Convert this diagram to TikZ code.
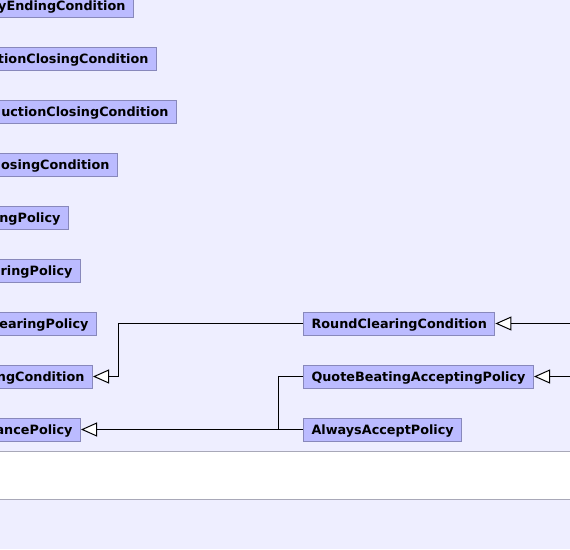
\documentclass[tikz,border=0pt]{standalone}
\usepackage{fontspec}
\setmainfont{DejaVu Sans}
\usepackage{xcolor}
\usepackage{tikz}
\usetikzlibrary{arrows.meta, positioning}
\definecolor{pagebg}{HTML}{EEEEFF}
\definecolor{clsfill}{HTML}{BBBBFF}
\definecolor{clsline}{HTML}{8888BB}
\definecolor{sepline}{HTML}{A8A8B8}

\begin{document}
\begin{tikzpicture}[x=1pt, y=-1pt, font=\bfseries\fontsize{12.8}{14}\selectfont,
    cls/.style={draw=clsline, fill=clsfill, line width=1pt, inner xsep=8pt, inner ysep=0pt,
        minimum height=23pt, text height=11pt, text depth=1pt},
    cut/.style={cls, anchor=east, text width=#1, align=right},
    ext/.style={line width=1pt, -{Triangle[length=16pt, width=14pt, fill=white]}}]
    % Page
    \useasboundingbox (0,0) rectangle (570,549);
    \fill[pagebg] (0,0) rectangle (570,549);
    \clip (0,0) rectangle (570,549);

    % Band at the bottom
    \fill[white] (0,451) rectangle (570,499);
    \draw[sepline, line width=1pt] (0,451) -- (570,451);
    \draw[sepline, line width=1pt] (0,499) -- (570,499);

    % Classes cut off on the left
    \node[cut=144pt] (ending) at (134,5.5) {yEndingCondition};
    \node[cut=167pt] (closing) at (157,58.5) {tionClosingCondition};
    \node[cut=187pt] (auctionClosing) at (177,111.5) {uctionClosingCondition};
    \node[cut=128pt] (roundClosing) at (118,164.5) {osingCondition};
    \node[cut=79pt] (pricing) at (69,217.5) {ngPolicy};
    \node[cut=91pt] (clearing) at (81,270.5) {aringPolicy};
    \node[cut=107pt] (roundClearing) at (97,323.5) {earingPolicy};
    \node[cut=103pt] (clearingCond) at (93,376.5) {ngCondition};
    \node[cut=91pt] (acceptance) at (81,429.5) {ancePolicy};

    % Subclasses
    \node[cls, anchor=west] (rcc) at (303,323.5) {RoundClearingCondition};
    \node[cls, anchor=west] (qbap) at (303,376.5) {QuoteBeatingAcceptingPolicy};
    \node[cls, anchor=west] (aap) at (303,429.5) {AlwaysAcceptPolicy};

    % Bends and ends off the page
    \coordinate (bendA) at (118,0);
    \coordinate (bendB) at (278,0);
    \coordinate (offRight) at (580,0);

    % Generalisations
    \draw[ext] (rcc.west) -- (rcc.west -| bendA) |- (clearingCond.east);
    \draw[line width=1pt] (qbap.west) -- (qbap.west -| bendB) -- (aap.west -| bendB);
    \draw[ext] (aap.west) -- (acceptance.east);
    \draw[ext] (rcc.east -| offRight) -- (rcc.east);
    \draw[ext] (qbap.east -| offRight) -- (qbap.east);
\end{tikzpicture}
\end{document}
